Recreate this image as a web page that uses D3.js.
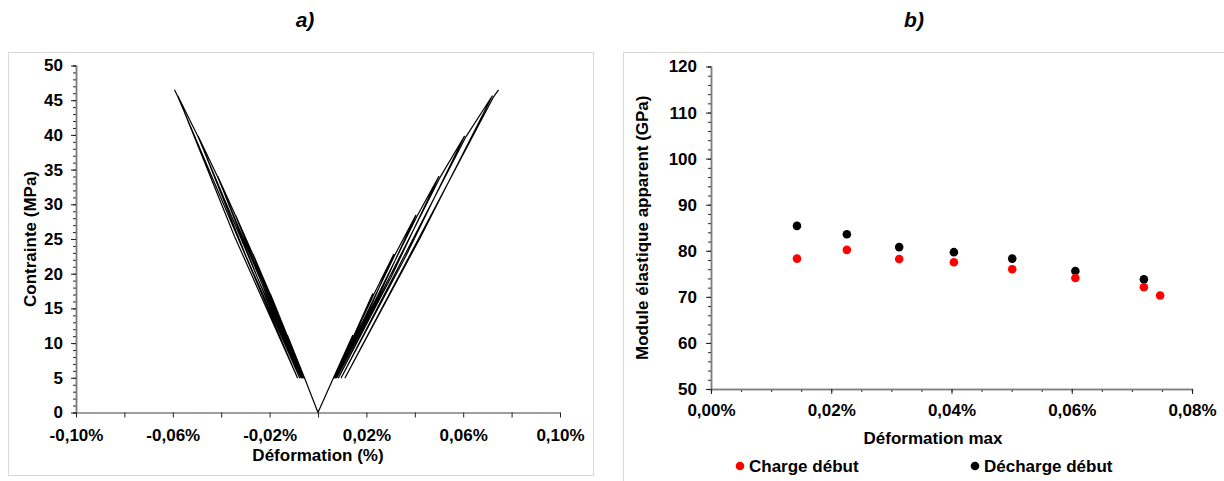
<!DOCTYPE html>
<html>
<head>
<meta charset="utf-8">
<script src="https://cdn.jsdelivr.net/npm/d3@7"></script>
<style>
  html, body { margin: 0; padding: 0; background: #fff; }
  svg { display: block; }
  text { font-family: "Liberation Sans", Arial, sans-serif; }
</style>
</head>
<body>
<svg id="chart" width="1224" height="481"></svg>
<script>
// ---------------- DATA ----------------
// Panel a) cyclic stress-strain (strain in %, stress in MPa)
const cycleStress = [11.1, 17.1, 22.8, 28.4, 34.0, 39.8, 45.6, 46.5];
const baseStress = 5;
const tensionStart = 0.0064;
const tensionPeak = [0.0143, 0.0226, 0.0313, 0.0404, 0.0499, 0.0605, 0.0720, 0.0746];
const tensionValley = [0.0066, 0.0069, 0.0073, 0.0078, 0.0085, 0.0096, 0.0112];
const tensionUnloadMid = [0.0109, 0.0154, 0.0201, 0.0250, 0.0302, 0.0361, 0.0424];
const tensionKneeStrain = [0.0146, 0.0229, 0.0316, 0.0408, 0.0503, 0.0609, 0.0724];
const tensionKneeStress = [10.9, 16.9, 22.6, 28.2, 33.8, 39.6, 45.4];
const compressionStart = -0.0056;
const compressionPeak = [-0.0126, -0.0197, -0.0268, -0.0340, -0.0414, -0.0495, -0.0579, -0.0593];
const compressionValley = [-0.0058, -0.0060, -0.0063, -0.0066, -0.0070, -0.0076, -0.0085];
const compressionUnloadMid = [-0.0096, -0.0135, -0.0173, -0.0211, -0.0251, -0.0296, -0.0344];
const compressionKneeStrain = [-0.0126, -0.0197, -0.0268, -0.0340, -0.0414, -0.0495, -0.0579];
const compressionKneeStress = [11.0, 17.0, 22.7, 28.3, 33.9, 39.7, 45.5];
const unloadMidStress = [8.1, 11.1, 13.9, 16.7, 19.5, 22.4, 25.3];

// Panel b) apparent modulus vs max strain
const strainMaxCharge = [0.0143, 0.0226, 0.0313, 0.0404, 0.0501, 0.0606, 0.0720, 0.0747];
const chargeDebut = [78.3, 80.2, 78.2, 77.5, 76.0, 74.1, 72.1, 70.3];
const strainMaxDecharge = [0.0143, 0.0226, 0.0313, 0.0404, 0.0501, 0.0606, 0.0720];
const dechargeDebut = [85.4, 83.6, 80.8, 79.7, 78.3, 75.6, 73.8];

// Tick labels
const aXLabels = [-0.10, -0.06, -0.02, 0.02, 0.06, 0.10];
const aXTicks = [-0.10, -0.08, -0.06, -0.04, -0.02, 0, 0.02, 0.04, 0.06, 0.08, 0.10];
const aYTicks = [0, 5, 10, 15, 20, 25, 30, 35, 40, 45, 50];
const bXTicks = [0, 0.02, 0.04, 0.06, 0.08];
const bYTicks = [50, 60, 70, 80, 90, 100, 110, 120];

// ---------------- DRAW ----------------
const svg = d3.select("#chart");
const FONT = 17;
const fmtPct = d => (d < 0 ? "-" : "") + Math.abs(d).toFixed(2).replace(".", ",") + "%";
const near = (a, b) => Math.abs(a - b) < 1e-9;

// frames
svg.append("rect").attr("x", 8.5).attr("y", 52.5).attr("width", 585).attr("height", 423)
  .attr("fill", "none").attr("stroke", "#d9d9d9");
svg.append("rect").attr("x", 623.5).attr("y", 52.5).attr("width", 640).attr("height", 460)
  .attr("fill", "none").attr("stroke", "#d9d9d9");

// titles
svg.append("text").attr("x", 305).attr("y", 27).attr("text-anchor", "middle")
  .attr("font-size", 21).attr("font-weight", "bold").attr("font-style", "italic").text("a)");
svg.append("text").attr("x", 914).attr("y", 27).attr("text-anchor", "middle")
  .attr("font-size", 21).attr("font-weight", "bold").attr("font-style", "italic").text("b)");

function styleAxis(g) {
  g.select(".domain").attr("stroke", "#7f7f7f").attr("stroke-width", 1.5);
  g.selectAll(".tick line").attr("stroke", "#222").attr("stroke-width", 1);
  g.selectAll("text").attr("font-size", FONT).attr("font-weight", "bold")
    .attr("font-family", "'Liberation Sans', Arial, sans-serif").attr("fill", "#000");
}

// ---- Panel a ----
const xA = d3.scaleLinear().domain([-0.10, 0.10]).range([76, 560]);
const yA = d3.scaleLinear().domain([0, 50]).range([412.5, 65.5]);

svg.append("g").attr("transform", `translate(${xA(-0.10)},0)`)
  .call(d3.axisLeft(yA).tickValues(d3.range(0, 51, 1)).tickSize(3).tickFormat(""))
  .call(styleAxis);
svg.append("g").attr("transform", `translate(${xA(-0.10)},0)`)
  .call(d3.axisLeft(yA).tickValues(aYTicks).tickSize(5).tickSizeOuter(0).tickPadding(8))
  .call(styleAxis);
const gxA = svg.append("g").attr("transform", `translate(0,${yA(0)})`)
  .call(d3.axisBottom(xA).tickValues(aXTicks).tickSize(5).tickSizeOuter(0)
    .tickFormat(d => aXLabels.some(v => near(v, d)) ? fmtPct(d) : ""))
  .call(styleAxis);
gxA.selectAll("text").attr("y", 28).attr("dy", 0);

svg.append("text").attr("transform", `translate(35.5,${(yA(0) + yA(50)) / 2}) rotate(-90)`)
  .attr("text-anchor", "middle").attr("font-size", FONT).attr("font-weight", "bold")
  .text("Contrainte (MPa)");
svg.append("text").attr("x", xA(0)).attr("y", 461).attr("text-anchor", "middle")
  .attr("font-size", FONT).attr("font-weight", "bold").text("Déformation (%)");

// one continuous path per side: origin -> load -> knee -> peak -> unload -> valley ...
function buildPath(start, peaks, valleys, mids, kneeStrain, kneeStress) {
  const pts = [[0, 0], [start, baseStress]];
  peaks.forEach((p, i) => {
    if (i > 0) pts.push([kneeStrain[i - 1], kneeStress[i - 1]]);
    pts.push([p, cycleStress[i]]);
    if (i < valleys.length) {
      pts.push([mids[i], unloadMidStress[i]]);
      pts.push([valleys[i], baseStress]);
    }
  });
  return pts;
}
const lineA = d3.line().x(d => xA(d[0])).y(d => yA(d[1]));
const gA = svg.append("g");
gA.append("path")
  .datum(buildPath(tensionStart, tensionPeak, tensionValley, tensionUnloadMid, tensionKneeStrain, tensionKneeStress))
  .attr("d", lineA).attr("fill", "none").attr("stroke", "#000").attr("stroke-width", 1.2)
  .attr("stroke-linejoin", "round");
gA.append("path")
  .datum(buildPath(compressionStart, compressionPeak, compressionValley, compressionUnloadMid, compressionKneeStrain, compressionKneeStress))
  .attr("d", lineA).attr("fill", "none").attr("stroke", "#000").attr("stroke-width", 1.2)
  .attr("stroke-linejoin", "round");

// ---- Panel b ----
const xB = d3.scaleLinear().domain([0, 0.08]).range([711, 1192]);
const yB = d3.scaleLinear().domain([50, 120]).range([389, 66.5]);

svg.append("g").attr("transform", `translate(${xB(0)},0)`)
  .call(d3.axisLeft(yB).tickValues(d3.range(50, 121, 2)).tickSize(3).tickFormat(""))
  .call(styleAxis);
svg.append("g").attr("transform", `translate(${xB(0)},0)`)
  .call(d3.axisLeft(yB).tickValues(bYTicks).tickSize(5).tickSizeOuter(0).tickPadding(9))
  .call(styleAxis);
svg.append("g").attr("transform", `translate(0,${yB(50)})`)
  .call(d3.axisBottom(xB).tickValues(d3.range(0, 17).map(i => i * 0.005)).tickSize(3).tickFormat(""))
  .call(styleAxis);
const gxB = svg.append("g").attr("transform", `translate(0,${yB(50)})`)
  .call(d3.axisBottom(xB).tickValues(bXTicks).tickSize(5).tickSizeOuter(0).tickFormat(fmtPct))
  .call(styleAxis);
gxB.selectAll("text").attr("y", 27).attr("dy", 0);

svg.append("text").attr("transform", `translate(648,${(yB(50) + yB(120)) / 2}) rotate(-90)`)
  .attr("text-anchor", "middle").attr("font-size", FONT).attr("font-weight", "bold")
  .text("Module élastique apparent (GPa)");
svg.append("text").attr("x", 933).attr("y", 444).attr("text-anchor", "middle")
  .attr("font-size", FONT).attr("font-weight", "bold").text("Déformation max");

svg.append("g").selectAll("circle").data(strainMaxDecharge.map((s, i) => [s, dechargeDebut[i]]))
  .join("circle").attr("cx", d => xB(d[0])).attr("cy", d => yB(d[1])).attr("r", 4.3).attr("fill", "#000");
svg.append("g").selectAll("circle").data(strainMaxCharge.map((s, i) => [s, chargeDebut[i]]))
  .join("circle").attr("cx", d => xB(d[0])).attr("cy", d => yB(d[1])).attr("r", 4.3).attr("fill", "#ff0000");

// legend
const legend = [["Charge début", "#ff0000", 740], ["Décharge début", "#000", 975]];
legend.forEach(([label, color, x]) => {
  svg.append("circle").attr("cx", x).attr("cy", 466).attr("r", 4.3).attr("fill", color);
  svg.append("text").attr("x", x + 9).attr("y", 472).attr("font-size", FONT).attr("font-weight", "bold").text(label);
});
</script>
</body>
</html>
